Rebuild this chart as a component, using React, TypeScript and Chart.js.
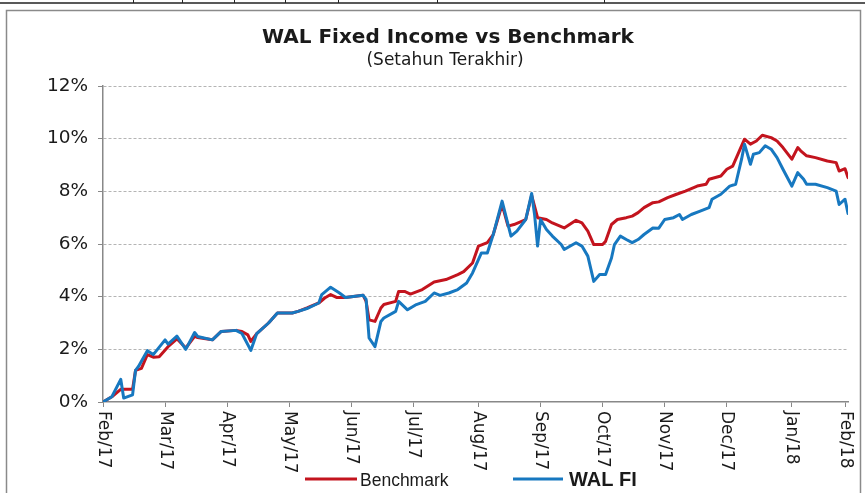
import React, { useEffect, useRef } from "react";
import { Chart, registerables } from "chart.js";

Chart.register(...registerables);

// ---- data (trading-day index, value in %) ----
const monthTicks = [0, 21, 42, 63, 84, 105, 127, 148, 169, 190, 211, 233, 251];
const monthLabels = ["Feb/17", "Mar/17", "Apr/17", "May/17", "Jun/17", "Jul/17", "Aug/17", "Sep/17", "Oct/17", "Nov/17", "Dec/17", "Jan/18", "Feb/18"];
const yTickValues = [0, 2, 4, 6, 8, 10, 12];

const benchDays = [0, 3, 6, 10, 11, 13, 15, 17, 19, 22, 25, 28, 31, 32, 37, 40, 45, 47, 49, 50, 52, 56, 59, 64, 66, 69, 73, 75, 77, 79, 82, 88, 89, 90, 92, 94, 95, 99, 100, 102, 104, 108, 112, 116, 120, 122, 125, 127, 130, 132, 135, 137, 139, 143, 145, 147, 150, 152, 156, 160, 162, 164, 166, 169, 170, 172, 174, 177, 179, 181, 183, 186, 188, 191, 194, 197, 201, 204, 205, 209, 211, 213, 215, 217, 219, 221, 223, 226, 228, 230, 233, 235, 236, 238, 241, 245, 248, 249, 251, 252];
const benchVals = [0, 0.2, 0.48, 0.48, 1.2, 1.28, 1.8, 1.7, 1.72, 2.1, 2.4, 2.05, 2.49, 2.45, 2.36, 2.68, 2.72, 2.68, 2.55, 2.3, 2.6, 3.0, 3.38, 3.38, 3.44, 3.57, 3.76, 3.95, 4.08, 3.97, 3.97, 4.05, 3.82, 3.12, 3.06, 3.57, 3.7, 3.82, 4.2, 4.2, 4.1, 4.27, 4.56, 4.65, 4.84, 4.95, 5.28, 5.92, 6.05, 6.36, 7.5, 6.68, 6.74, 6.93, 7.85, 7.0, 6.93, 6.8, 6.61, 6.9, 6.8, 6.49, 5.98, 5.98, 6.1, 6.74, 6.93, 7.0, 7.06, 7.19, 7.38, 7.57, 7.6, 7.76, 7.89, 8.01, 8.2, 8.27, 8.46, 8.58, 8.84, 8.96, 9.47, 9.98, 9.79, 9.91, 10.13, 10.04, 9.91, 9.66, 9.22, 9.66, 9.54, 9.35, 9.28, 9.15, 9.09, 8.77, 8.86, 8.52];

const walDays = [0, 3, 6, 7, 10, 11, 12, 15, 17, 21, 22, 25, 28, 31, 32, 37, 40, 45, 47, 50, 52, 56, 59, 64, 66, 69, 73, 74, 77, 80, 82, 88, 89, 90, 92, 94, 95, 99, 100, 103, 106, 109, 112, 114, 117, 120, 123, 125, 128, 130, 132, 135, 138, 140, 143, 145, 146, 147, 148, 150, 152, 155, 156, 160, 162, 164, 166, 168, 170, 172, 173, 175, 177, 179, 181, 183, 186, 188, 190, 193, 195, 196, 199, 202, 205, 206, 209, 212, 214, 216, 217, 219, 220, 222, 224, 226, 228, 230, 233, 235, 237, 238, 241, 245, 248, 249, 251, 252];
const walVals = [0, 0.2, 0.86, 0.15, 0.27, 1.2, 1.35, 1.95, 1.8, 2.36, 2.2, 2.5, 2.0, 2.64, 2.49, 2.36, 2.68, 2.72, 2.6, 1.96, 2.6, 3.0, 3.38, 3.38, 3.44, 3.55, 3.76, 4.08, 4.36, 4.14, 3.97, 4.05, 3.9, 2.43, 2.1, 3.06, 3.19, 3.44, 3.82, 3.5, 3.7, 3.82, 4.14, 4.05, 4.14, 4.27, 4.52, 4.9, 5.66, 5.66, 6.36, 7.63, 6.3, 6.49, 6.93, 7.92, 7.1, 5.92, 6.93, 6.55, 6.3, 5.98, 5.79, 6.05, 5.92, 5.54, 4.58, 4.84, 4.84, 5.47, 5.98, 6.3, 6.17, 6.05, 6.17, 6.36, 6.61, 6.6, 6.93, 7.0, 7.12, 6.93, 7.12, 7.25, 7.38, 7.7, 7.89, 8.2, 8.27, 9.22, 9.79, 9.03, 9.41, 9.47, 9.73, 9.6, 9.28, 8.84, 8.2, 8.71, 8.46, 8.27, 8.27, 8.14, 8.01, 7.5, 7.7, 7.16];

const titleText = "WAL Fixed Income vs Benchmark";
const subtitleText = "(Setahun Terakhir)";
const seriesNames = ["Benchmark", "WAL FI"];
const RED = "#C3141E";
const BLUE = "#1778C0";
const tableDividers = [133, 182, 234, 285, 338, 437, 604];

const framePlugin = {
  id: "framePlugin",
  beforeDraw(chart: any) {
    const ctx = chart.ctx;
    ctx.save();
    ctx.fillStyle = "#ffffff";
    ctx.fillRect(0, 0, chart.width, chart.height);
    // table strip on top
    ctx.strokeStyle = "#222";
    ctx.lineWidth = 1.5;
    ctx.beginPath();
    ctx.moveTo(0, 3);
    ctx.lineTo(chart.width, 3);
    ctx.stroke();
    ctx.lineWidth = 1;
    tableDividers.forEach((x) => {
      ctx.beginPath();
      ctx.moveTo(x + 0.5, 0);
      ctx.lineTo(x + 0.5, 3);
      ctx.stroke();
    });
    // chart box
    ctx.strokeStyle = "#8a8a8a";
    ctx.lineWidth = 1.5;
    ctx.strokeRect(6.5, 10.5, 854, 500);
    ctx.restore();
  },
  afterDraw(chart: any) {
    const ctx = chart.ctx;
    const xs = chart.scales.x;
    const area = chart.chartArea;
    ctx.save();
    ctx.fillStyle = "#1a1a1a";
    ctx.textAlign = "center";
    ctx.textBaseline = "alphabetic";
    ctx.font = "bold 20px 'DejaVu Sans'";
    ctx.fillText(titleText, 448, 43);
    ctx.font = "17px 'DejaVu Sans'";
    ctx.fillText(subtitleText, 445, 65);

    // rotated month labels (reading top to bottom)
    ctx.font = "17px 'DejaVu Sans'";
    ctx.textAlign = "left";
    ctx.textBaseline = "middle";
    monthTicks.forEach((v, i) => {
      const px = xs.getPixelForValue(v);
      ctx.save();
      ctx.translate(px, area.bottom + 9);
      ctx.rotate(Math.PI / 2);
      ctx.fillText(monthLabels[i], 0, 0);
      ctx.restore();
    });

    // legend
    const ly = 479;
    ctx.lineWidth = 3;
    ctx.strokeStyle = RED;
    ctx.beginPath();
    ctx.moveTo(305, ly);
    ctx.lineTo(357, ly);
    ctx.stroke();
    ctx.strokeStyle = BLUE;
    ctx.beginPath();
    ctx.moveTo(513, ly);
    ctx.lineTo(563, ly);
    ctx.stroke();
    ctx.fillStyle = "#1a1a1a";
    ctx.textAlign = "left";
    ctx.textBaseline = "alphabetic";
    ctx.font = "17.5px 'Liberation Sans'";
    ctx.fillText(seriesNames[0], 360, 486);
    ctx.font = "bold 20px 'Liberation Sans'";
    ctx.fillText(seriesNames[1], 569, 486);
    ctx.restore();
  },
};

export default function App() {
  const canvasRef = useRef<HTMLCanvasElement | null>(null);

  useEffect(() => {
    if (!canvasRef.current) return;
    const chart = new Chart(canvasRef.current, {
      type: "line",
      data: {
        datasets: [
          {
            label: seriesNames[0],
            data: benchDays.map((d, i) => ({ x: d, y: benchVals[i] })),
            borderColor: RED,
            backgroundColor: RED,
            borderWidth: 3,
            pointRadius: 0,
            tension: 0,
            order: 1,
          },
          {
            label: seriesNames[1],
            data: walDays.map((d, i) => ({ x: d, y: walVals[i] })),
            borderColor: BLUE,
            backgroundColor: BLUE,
            borderWidth: 3,
            pointRadius: 0,
            tension: 0,
            order: 0,
          },
        ],
      },
      options: {
        responsive: false,
        animation: false,
        devicePixelRatio: 1,
        layout: { padding: { left: 0, top: 86, right: 17, bottom: 0 } },
        elements: { line: { borderJoinStyle: "round", borderCapStyle: "round" } },
        plugins: {
          legend: { display: false },
          title: { display: false },
          tooltip: { enabled: false },
        },
        scales: {
          x: {
            type: "linear",
            min: 0,
            max: 252,
            afterBuildTicks: (scale: any) => {
              scale.ticks = monthTicks.map((v) => ({ value: v }));
            },
            afterFit: (scale: any) => {
              scale.height = 91;
            },
            ticks: { display: false },
            grid: {
              drawOnChartArea: false,
              drawTicks: true,
              tickLength: 5,
              tickColor: "#888",
              tickBorderDash: [],
            },
            border: { display: true, color: "#888", width: 1.5 },
          },
          y: {
            min: 0,
            max: 12,
            afterBuildTicks: (scale: any) => {
              scale.ticks = yTickValues.map((v) => ({ value: v }));
            },
            afterFit: (scale: any) => {
              scale.width = 103;
            },
            ticks: {
              padding: 10,
              color: "#1a1a1a",
              font: { family: "'DejaVu Sans'", size: 18.5 },
              callback: (v: any) => v + "%",
            },
            grid: {
              color: (c: any) => (c.tick && c.tick.value === 0 ? "rgba(0,0,0,0)" : "#b4b4b4"),
              lineWidth: 1,
              drawTicks: true,
              tickLength: 5,
              tickColor: "#888",
              tickBorderDash: [],
            },
            border: { display: true, color: "#888", width: 1.5, dash: [3, 2] },
          },
        },
      },
      plugins: [framePlugin],
    });
    return () => chart.destroy();
  }, []);

  return (
    <div style={{ position: "absolute", left: 0, top: 0, width: 865, height: 493, background: "#fff" }}>
      <canvas ref={canvasRef} width={865} height={493} />
    </div>
  );
}
